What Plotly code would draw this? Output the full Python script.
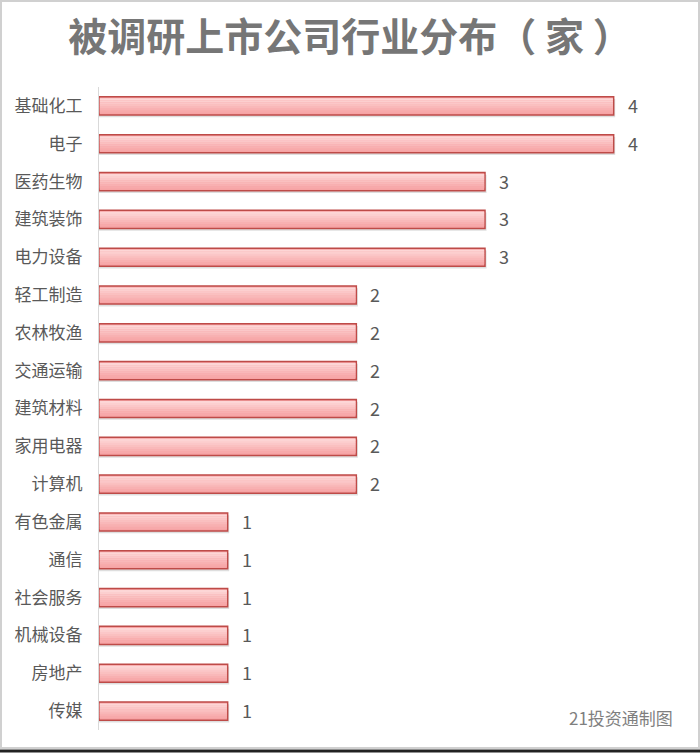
import plotly.graph_objects as go

categories = ["基础化工", "电子", "医药生物", "建筑装饰", "电力设备", "轻工制造", "农林牧渔",
              "交通运输", "建筑材料", "家用电器", "计算机", "有色金属", "通信", "社会服务",
              "机械设备", "房地产", "传媒"]
values = [4, 4, 3, 3, 3, 2, 2, 2, 2, 2, 2, 1, 1, 1, 1, 1, 1]
title_text = "被调研上市公司行业分布（ 家 ）"
source_text = "21投资通制图"

W, H = 700, 753
L, R, T, B = 99, 22, 87, 23
pw, ph = W - L - R, H - T - B

def px(x):
    return (x - L) / pw

def py(y):
    return (H - B - y) / ph

BW = 0.48
FONT = "Noto Sans CJK SC"

fig = go.Figure()
# soft shadow
fig.add_trace(go.Bar(
    y=categories, x=[v + 0.012 for v in values], orientation="h",
    width=BW, offset=-BW / 2 + 0.06,
    marker=dict(color="rgba(0,0,0,0.13)", line=dict(width=0)),
    hoverinfo="skip",
))
# main bar
fig.add_trace(go.Bar(
    y=categories, x=values, orientation="h",
    width=BW, offset=-BW / 2,
    marker=dict(color="#F6A3A4", line=dict(color="#BE4B48", width=1.5)),
))
# gradient highlight bands (top light -> bottom darker)
band_colors = ["#FDD6D6", "#FCCFCF", "#FBC7C8", "#FAC0C0", "#F9B8B9", "#F8B0B1", "#F7A9AA"]
n = len(band_colors)
start, stop = 0.04, 0.42
step = (stop - start) / n
for i, c in enumerate(band_colors):
    fig.add_trace(go.Bar(
        y=categories, x=[v - 0.012 for v in values], base=0.006, orientation="h",
        width=step + 0.004, offset=-BW / 2 + start + i * step,
        marker=dict(color=c, line=dict(width=0)),
        hoverinfo="skip",
    ))

for cat, v in zip(categories, values):
    fig.add_annotation(x=v, y=cat, text=str(v), xanchor="left", yanchor="middle",
                       xshift=12, yshift=1, showarrow=False,
                       font=dict(size=18, color="#595959", family=FONT))

fig.update_layout(
    width=W, height=H,
    margin=dict(l=L, r=R, t=T, b=B),
    paper_bgcolor="white", plot_bgcolor="white",
    showlegend=False,
    barmode="overlay",
    title=dict(text=title_text, x=0.5, xanchor="center", y=1 - 37 / H, yanchor="middle",
               font=dict(size=39, color="#767676", family=FONT, weight="bold")),
    xaxis=dict(range=[0, 4.5], showgrid=False, zeroline=False, showticklabels=False,
               showline=False, ticks=""),
    yaxis=dict(autorange="reversed", showgrid=False, zeroline=False,
               showline=True, linecolor="#D9D9D9", linewidth=1, ticks="",
               ticklabelstandoff=12,
               tickfont=dict(size=17, color="#595959", family=FONT)),
    font=dict(family=FONT),
)

fig.add_annotation(text=source_text, xref="paper", yref="paper",
                   x=px(675), y=py(717), xanchor="right", yanchor="middle",
                   showarrow=False, font=dict(size=17, color="#7F7F7F", family=FONT))

# frame
fig.add_shape(type="rect", xref="paper", yref="paper",
              x0=px(1), x1=px(699), y0=py(748), y1=py(1),
              line=dict(color="#D0D0D0", width=2), layer="below")
fig.add_shape(type="line", xref="paper", yref="paper",
              x0=px(0), x1=px(700), y0=py(751), y1=py(751),
              line=dict(color="#222222", width=3))

fig.write_html("out.html")
